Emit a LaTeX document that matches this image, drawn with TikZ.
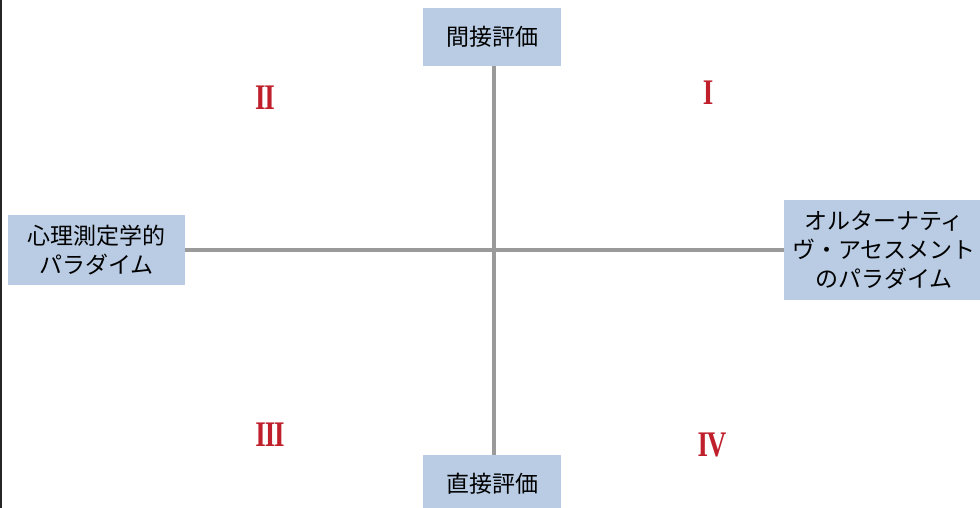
\documentclass[tikz,border=0pt]{standalone}
\usepackage{fontspec}
\usepackage{graphicx}
\newfontfamily\cjk{Noto Sans CJK JP}
\newfontfamily\romanfont{Liberation Serif}
\definecolor{boxblue}{HTML}{B9CCE4}
\definecolor{axisgray}{HTML}{9A9A9A}
\definecolor{numred}{HTML}{C0202C}
\newcommand{\rnum}[1]{\scalebox{0.75}[1]{#1}}
\begin{document}
\begin{tikzpicture}[x=1pt,y=-1pt,
  lab/.style={fill=boxblue,inner sep=0pt,align=center,font=\cjk\fontsize{23}{29}\selectfont,text=black},
  axis/.style={draw=axisgray,line width=4pt},
  num/.style={text=numred,font=\romanfont\bfseries\fontsize{36}{36}\selectfont,inner sep=0pt}]
\useasboundingbox (0,0) rectangle (980,508);
\fill[white] (0,0) rectangle (980,508);
\draw[line width=1.5pt,black!85] (1,0) -- (1,508);
\node[lab,minimum width=138,minimum height=58] (top) at (492,37) {間接評価};
\node[lab,minimum width=138,minimum height=58] (bot) at (492,484) {直接評価};
\node[lab,minimum width=177,minimum height=70] (left) at (96.5,250) {心理測定学的\\パラダイム};
\node[lab,minimum width=200,minimum height=100] (right) at (884,250) {オルターナティ\\ヴ・アセスメント\\のパラダイム};
\draw[axis] (top.south -| 494,0) -- (bot.north -| 494,0);
\draw[axis] (left.east |- 0,250) -- (right.west |- 0,250);
\node[num] (n1) at (708,93) {\rnum{I}};
\node[num] (n2) at (265,98) {\rnum{I\kern-1.5pt I}};
\node[num] (n3) at (270,435) {\rnum{I\kern-1.5pt I\kern-1.5pt I}};
\node[num] (n4) at (712,445) {\rnum{I\kern-1.5pt V}};
\end{tikzpicture}
\end{document}
